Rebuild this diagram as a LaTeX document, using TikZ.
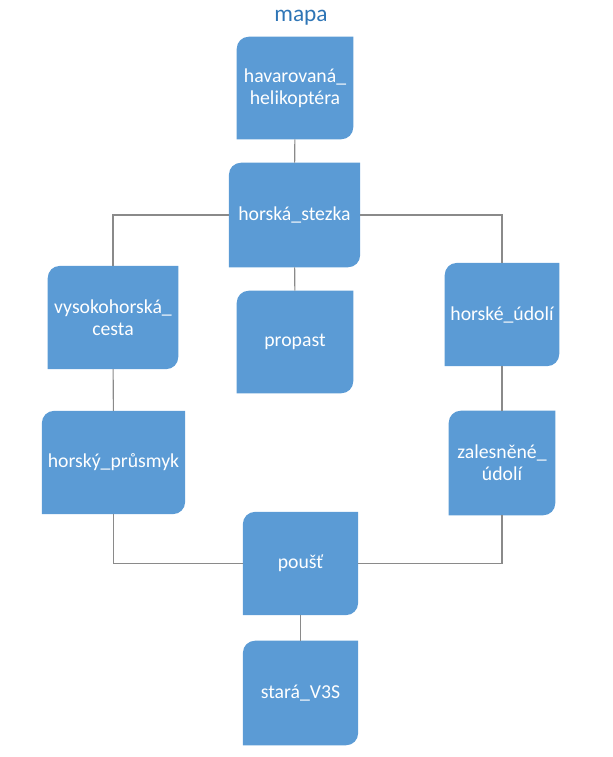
\documentclass[tikz,border=0pt]{standalone}
\usepackage{fontspec}
\setmainfont{Carlito}
\usepackage{xcolor}
\usetikzlibrary{positioning,backgrounds}
\definecolor{boxblue}{HTML}{5B9BD5}
\definecolor{titleblue}{HTML}{2E75B6}
\definecolor{linegray}{HTML}{8A8A8A}

\begin{document}
\begin{tikzpicture}[x=0.75pt,y=-0.75pt,
  place/.style={text=white,align=center,inner sep=0pt,
    font=\fontsize{14.8}{16.5}\selectfont},
  link/.style={draw=linegray,line width=0.8pt}
]
  \useasboundingbox (0,0) rectangle (613,757);
  \node[text=titleblue,font=\fontsize{17.5}{20}\selectfont] (title) at (301,18) {mapa};
  \node[place,minimum width=87pt,minimum height=76.5pt] (heli) at (295,88) {havarovaná\_\\helikoptéra};
  \node[place,minimum width=98pt,minimum height=78pt] (stezka) at (294.5,215) {horská\_stezka};
  \node[place,minimum width=97.5pt,minimum height=77pt] (vys) at (113,317.5) {vysokohorská\_\\cesta};
  \node[place,minimum width=87pt,minimum height=76.5pt] (propast) at (295,342) {propast};
  \node[place,minimum width=85.5pt,minimum height=77pt] (udoli) at (502,314.5) {horské\_údolí};
  \node[place,minimum width=107pt,minimum height=77pt] (prusmyk) at (113.5,462.5) {horský\_průsmyk};
  \node[place,minimum width=79.5pt,minimum height=78pt] (zales) at (502,463) {zalesněné\_\\údolí};
  \node[place,minimum width=86pt,minimum height=77pt] (pous) at (300.5,563.5) {poušť};
  \node[place,minimum width=86pt,minimum height=78pt] (stara) at (300.5,693) {stará\_V3S};

  % box shapes: rounded top left and bottom right
  \begin{scope}[on background layer]
    \foreach \n in {heli,stezka,vys,propast,udoli,prusmyk,zales,pous,stara}
      \fill[boxblue] (\n.south west) -- ([yshift=-9pt]\n.north west)
        arc[start angle=180,end angle=90,radius=9pt] -- (\n.north east)
        -- ([yshift=9pt]\n.south east)
        arc[start angle=0,end angle=-90,radius=9pt] -- cycle;
  \end{scope}

  \draw[link] (heli) -- (stezka);
  \draw[link] (stezka) -- (propast);
  \draw[link] (stezka) -| (vys);
  \draw[link] (stezka) -| (udoli);
  \draw[link] (vys) -- (prusmyk);
  \draw[link] (udoli) -- (zales);
  \draw[link] (prusmyk) |- (pous);
  \draw[link] (zales) |- (pous);
  \draw[link] (pous) -- (stara);
\end{tikzpicture}
\end{document}
